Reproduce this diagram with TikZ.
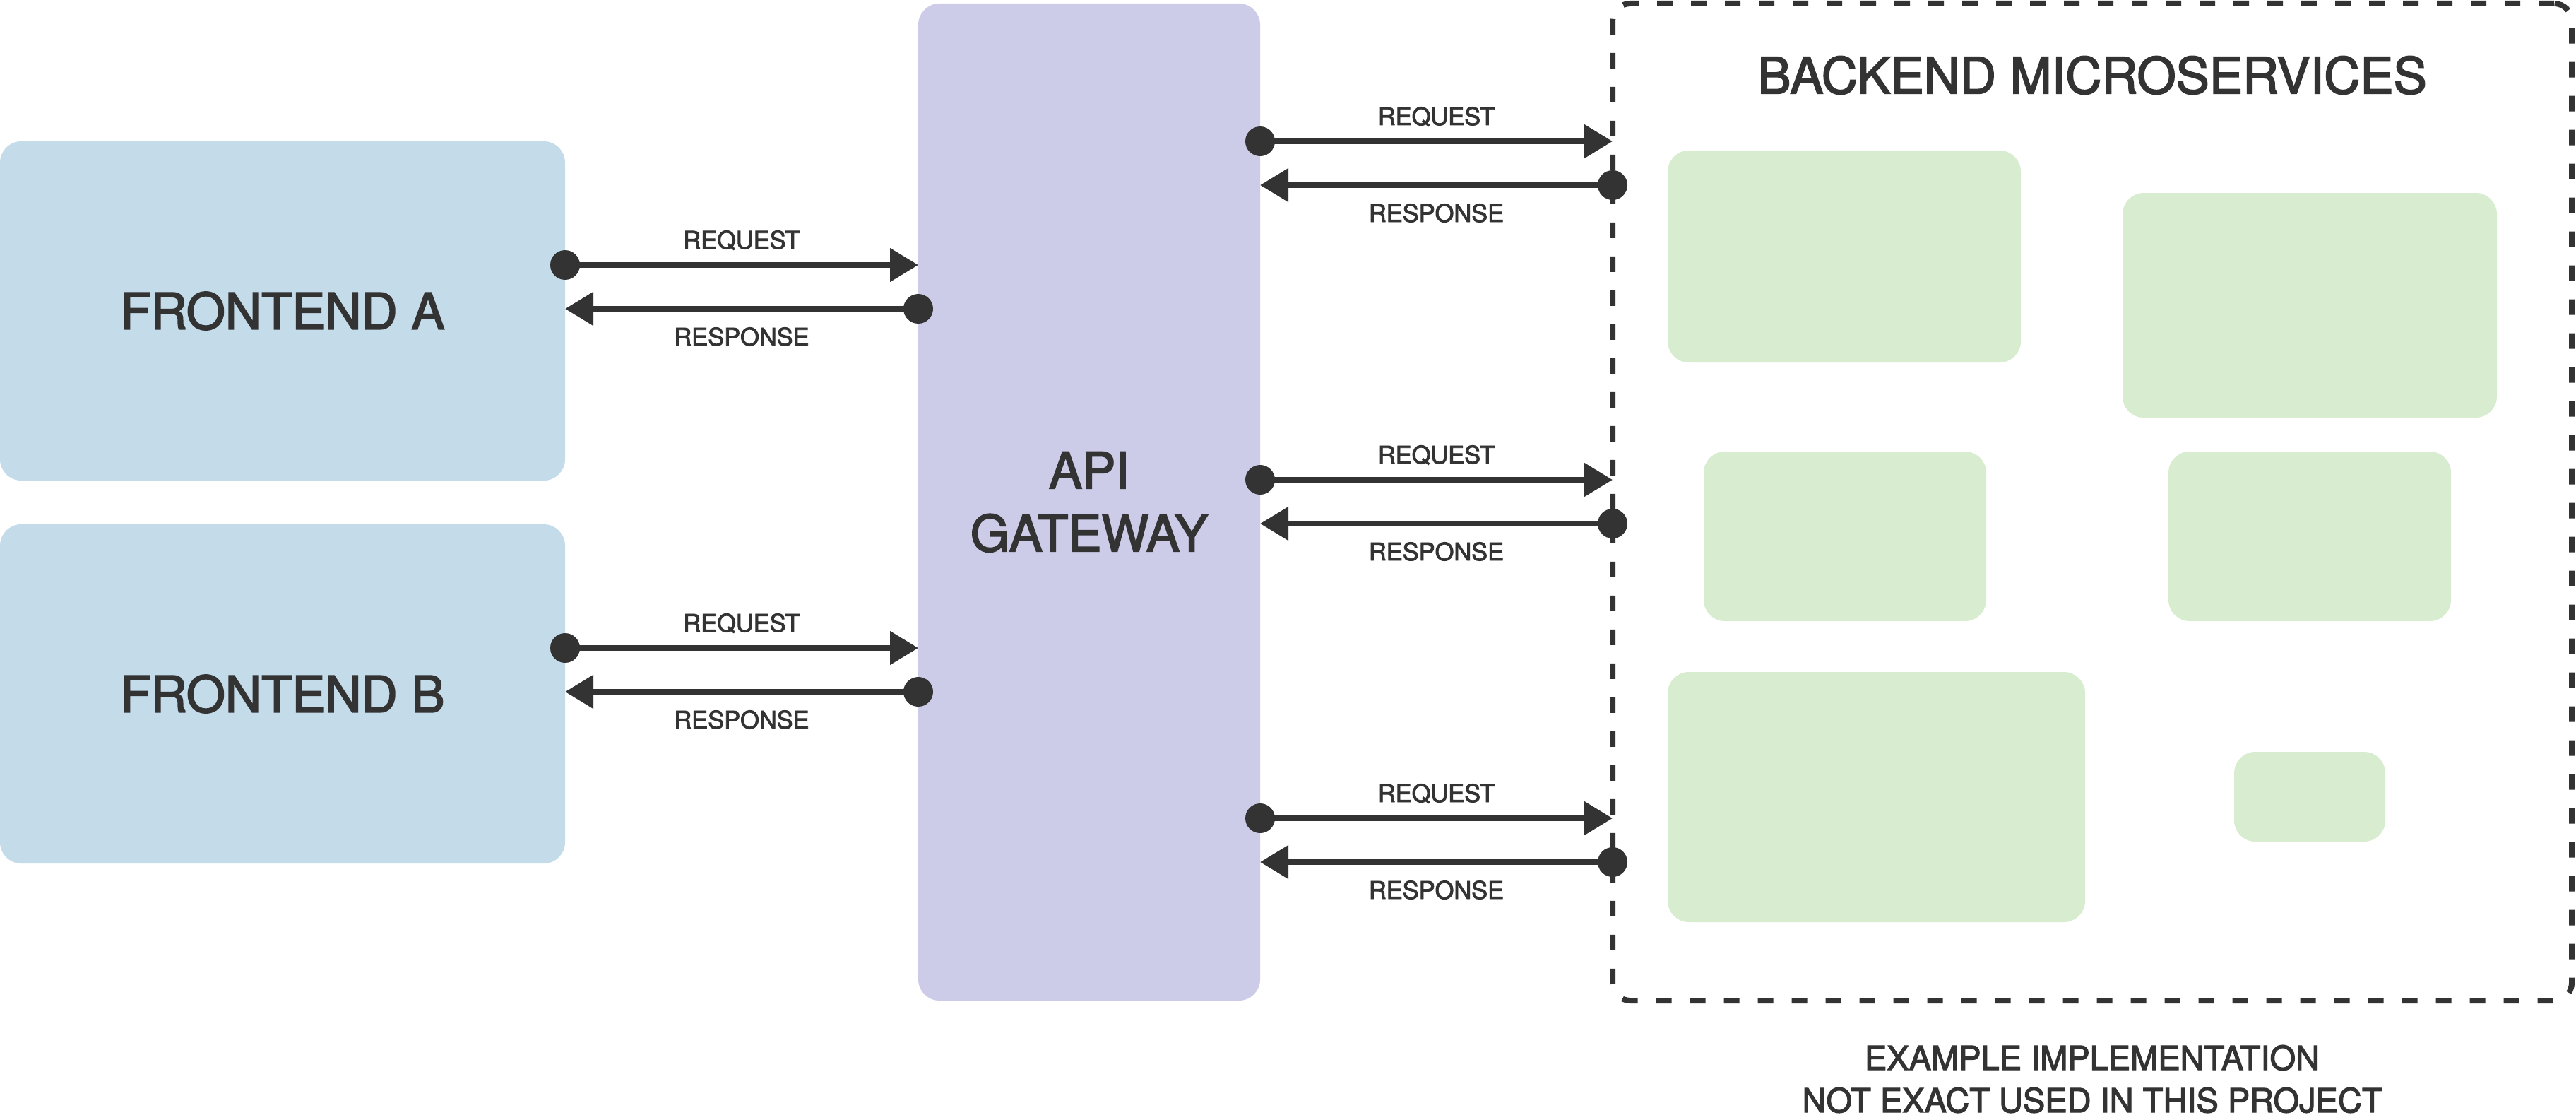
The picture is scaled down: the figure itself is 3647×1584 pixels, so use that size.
\documentclass[tikz,border=0pt]{standalone}
\usepackage{fontspec}
\setmainfont[FakeBold=2.5]{TeX Gyre Heros}
\usetikzlibrary{arrows.meta}
\definecolor{ink}{HTML}{333333}
\definecolor{feblue}{HTML}{C4DCEA}
\definecolor{gwpurple}{HTML}{CCCCE8}
\definecolor{msgreen}{HTML}{D8ECCF}
\newcommand\reqresp[4]{%
  \draw[link] (#1.east |- 0,#3) -- node[lbl, yshift=5.75pt] (#1#2q) {REQUEST} (#2.west |- 0,#3);
  \draw[link] (#2.west |- 0,#4) -- node[lbl, yshift=-13pt] (#1#2s) {RESPONSE} (#1.east |- 0,#4);
  \fill[ink] (#1.east |- 0,#3) circle[radius=5.25pt];
  \fill[ink] (#2.west |- 0,#4) circle[radius=5.25pt];
}
\begin{document}
\begin{tikzpicture}[x=0.25pt,y=-0.25pt,
  box/.style={rounded corners=7.5pt, inner sep=0pt, outer sep=0pt, align=center, text=ink,
    font=\fontsize{17.7}{22.25}\selectfont},
  fe/.style={box, fill=feblue, minimum width=200pt, minimum height=120pt},
  gwbox/.style={box, fill=gwpurple, minimum width=121pt, minimum height=352.75pt},
  msbox/.style={rounded corners=7.5pt, fill=msgreen, inner sep=0pt, outer sep=0pt},
  group/.style={draw=ink, line width=2pt, dash pattern=on 5.5pt off 6.5pt, rounded corners=6.25pt,
    inner sep=0pt, outer sep=0pt, minimum width=339.5pt, minimum height=352.75pt},
  lbl/.style={text=ink, font=\fontsize{8.6}{10}\selectfont, inner sep=0pt, anchor=base},
  link/.style={draw=ink, line width=2pt, -{Triangle[length=10pt,width=11.5pt]}}
]
\useasboundingbox (0,0) rectangle (3647,1584);

% main blocks
\node[fe] (fa) at (400,440) {FRONTEND A};
\node[fe] (fb) at (400,982) {FRONTEND B};
\node[gwbox] (gw) at (1542,710.5) {API\\GATEWAY};
\node[group] (be) at (2962,710.5) {};

% microservices
\node[msbox, minimum width=125pt,   minimum height=75pt]    (m1) at (2611,363) {};
\node[msbox, minimum width=132.5pt, minimum height=79.5pt]  (m2) at (3270,432) {};
\node[msbox, minimum width=100pt,   minimum height=60pt]    (m3) at (2612,759) {};
\node[msbox, minimum width=100pt,   minimum height=60pt]    (m4) at (3270,759) {};
\node[msbox, minimum width=147.75pt, minimum height=88.5pt] (m5) at (2656.5,1128) {};
\node[msbox, minimum width=53.5pt,  minimum height=31.75pt] (m6) at (3270,1127.5) {};

% titles
\node[text=ink, inner sep=0pt, font=\fontsize{17.7}{22.25}\selectfont] (title) at (2962,106.5) {BACKEND MICROSERVICES};
\node[text=ink, inner sep=0pt, align=center, font=\fontsize{11.75}{15}\selectfont] (note) at (2962,1527)
  {EXAMPLE IMPLEMENTATION\\NOT EXACT USED IN THIS PROJECT};

% connectors
\reqresp{fa}{gw}{375}{437}
\reqresp{fb}{gw}{917}{979}
\reqresp{gw}{be}{200}{262}
\reqresp{gw}{be}{679}{741}
\reqresp{gw}{be}{1158}{1220}
\end{tikzpicture}
\end{document}
